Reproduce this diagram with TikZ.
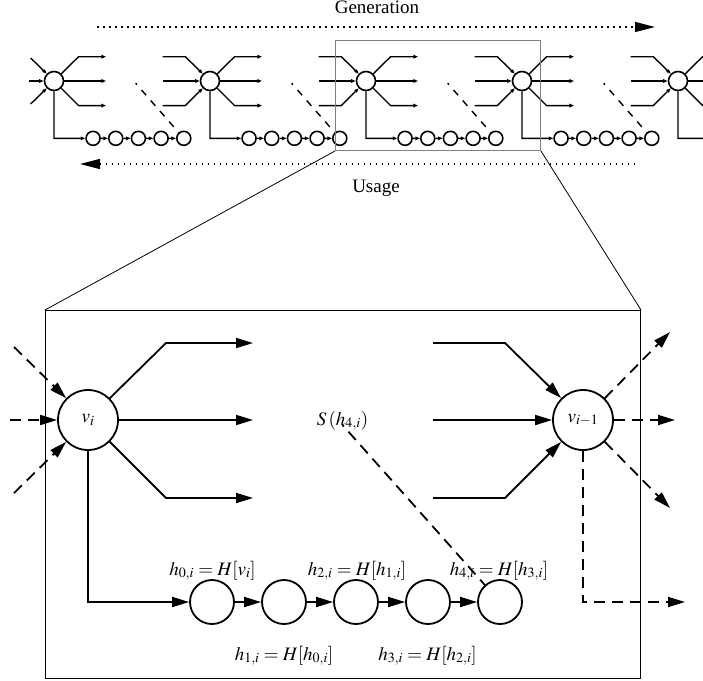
\documentclass[tikz,border=0pt]{standalone}
\usepackage{mathptmx}
\usepackage{fontspec}
\setmainfont{Liberation Serif}
\usetikzlibrary{arrows.meta}
\begin{document}
\begin{tikzpicture}[x=1pt,y=-1pt,
 font=\fontsize{19}{22}\selectfont,
 ln/.style={line width=1.8pt},
 tip/.style={-{Triangle[length=17pt,width=10pt]}},
 arr/.style={ln,tip},
 dsh/.style={ln,dash pattern=on 11pt off 7pt},
 big/.style={circle,draw,line width=1.8pt,minimum size=60pt,inner sep=0pt},
 small/.style={circle,draw,line width=1.8pt,minimum size=44pt,inner sep=0pt},
 tln/.style={line width=1.4pt},
 ttip/.style={-{Triangle[length=4.5pt,width=3.5pt]}},
 tarr/.style={tln,ttip},
 tbig/.style={circle,draw,line width=1.6pt,minimum size=19pt,inner sep=0pt},
 tsmall/.style={circle,draw,line width=1.6pt,minimum size=14pt,inner sep=0pt},
 tdsh/.style={tln,dash pattern=on 7pt off 7pt,dash phase=5pt},
 dots/.style={line width=1.4pt,dash pattern=on 1.5pt off 4.5pt},
 bigtip/.style={-{Triangle[length=20pt,width=10pt]}},
 lbl/.style={anchor=base,inner sep=0pt},
]
\useasboundingbox (0,0) rectangle (703,680);
\clip (0,0) rectangle (703,680);

% ---------- top strip ----------
\foreach \k in {0,...,4} \node[tbig] (t\k) at ({54+156*\k},81) {};
\foreach \k in {0,...,4} {
  \begin{scope}[shift={({54+156*\k},81)},scale=0.315]
    \coordinate (toa\k) at (165,-77);
    \coordinate (tob\k) at (165,0);
    \coordinate (toc\k) at (165,78);
    \draw[tarr] (t\k.45) -- (78,-77) -- (toa\k);
    \draw[tarr] (t\k.east) -- (tob\k);
    \draw[tarr] (t\k.-45) -- (78,78) -- (toc\k);
    \foreach \j in {0,...,4} \node[tsmall] (ts\k\j) at ({124+72*\j},182) {};
    \draw[tarr] (t\k.south) -- (0,182) -- (ts\k0.west);
    \foreach \a/\b in {0/1,1/2,2/3,3/4} \draw[tarr] (ts\k\a) -- (ts\k\b);
    \coordinate (tS\k) at (259,7);
    \draw[tdsh] (tS\k) -- (ts\k4);
  \end{scope}
}
\foreach \k in {0,...,3} {
  \pgfmathtruncatemacro\n{\k+1}
  \begin{scope}[shift={({54+156*\k},81)},scale=0.315]
    \coordinate (tia\k) at (345,-77);
    \coordinate (tib\k) at (345,0);
    \coordinate (tic\k) at (345,78);
    \draw[tarr] (tia\k) -- (417,-77) -- (t\n.135);
    \draw[tarr] (tib\k) -- (t\n.west);
    \draw[tarr] (tic\k) -- (417,78) -- (t\n.-135);
  \end{scope}
}
\begin{scope}[shift={(54,81)},scale=0.315]
  \coordinate (tla) at (-74,-73);
  \coordinate (tlb) at (-78,0);
  \coordinate (tlc) at (-74,73);
  \draw[tarr] (tla) -- (t0.135);
  \draw[tarr] (tlb) -- (t0.west);
  \draw[tarr] (tlc) -- (t0.-135);
\end{scope}

% boxes and zoom lines
\node[draw=gray,line width=1pt,minimum width=205pt,minimum height=110pt,inner sep=0pt,anchor=north west] (T) at (335,40) {};
\node[draw,line width=1pt,minimum width=595pt,minimum height=368pt,inner sep=0pt,anchor=north west] (B) at (45,310) {};
\draw[line width=0.8pt] (T.south west) -- (B.north west);
\draw[line width=0.8pt] (T.south east) -- (B.north east);

% generation / usage
\node[lbl] (gen) at (377,13.5) {Generation};
\coordinate (g1) at (97,27);
\coordinate (g2) at (655,27);
\draw[dots,bigtip] (g1) -- (g2);
\coordinate (u1) at (635,164);
\coordinate (u2) at (80,164);
\draw[dots,bigtip] (u1) -- (u2);
\node[lbl] (use) at (376,192) {Usage};

% ---------- detail ----------
\node[big] (vi) at (88,420) {$v_i$};
\node[big] (vj) at (583,420) {$v_{i-1}$};
\foreach \j/\x in {0/212,1/284,2/356,3/428,4/500} \node[small] (h\j) at (\x,602) {};
\node[lbl] (S) at (342.5,425) {$S\,(h_{4,i})$};

\node[lbl] (l0) at (212.5,575) {$h_{0,i}=H[v_i]$};
\node[lbl] (l2) at (357,575) {$h_{2,i}=H[h_{1,i}]$};
\node[lbl] (l4) at (499,575) {$h_{4,i}=H[h_{3,i}]$};
\node[lbl] (l1) at (284,660) {$h_{1,i}=H[h_{0,i}]$};
\node[lbl] (l3) at (427.5,660) {$h_{3,i}=H[h_{2,i}]$};

\coordinate (oa) at (253,343);
\coordinate (ob) at (253,420);
\coordinate (oc) at (253,498);
\coordinate (ia) at (433,343);
\coordinate (ib) at (433,420);
\coordinate (ic) at (433,498);
\coordinate (da) at (14,347);
\coordinate (db) at (10,420);
\coordinate (dc) at (14,493);
\coordinate (ea) at (670,332);
\coordinate (eb) at (675,420);
\coordinate (ec) at (670,508);
\coordinate (ed) at (685,602);

\draw[arr] (vi.45) -- (166,343) -- (oa);
\draw[arr] (vi.east) -- (ob);
\draw[arr] (vi.-45) -- (166,498) -- (oc);
\draw[arr] (ia) -- (505,343) -- (vj.135);
\draw[arr] (ib) -- (vj.west);
\draw[arr] (ic) -- (505,498) -- (vj.-135);
\draw[dsh,tip] (da) -- (vi.135);
\draw[dsh,tip] (db) -- (vi.west);
\draw[dsh,tip] (dc) -- (vi.-135);
\draw[dsh,tip] (vj.45) -- (ea);
\draw[dsh,tip] (vj.east) -- (eb);
\draw[dsh,tip] (vj.-45) -- (ec);
\draw[dsh,tip] (vj.south) -- (583,602) -- (ed);
\draw[arr] (vi.south) -- (88,602) -- (h0.west);
\foreach \a/\b in {0/1,1/2,2/3,3/4} \draw[arr] (h\a) -- (h\b);
\draw[dsh,dash phase=9pt] (S.base) -- (h4);
\end{tikzpicture}
\end{document}
